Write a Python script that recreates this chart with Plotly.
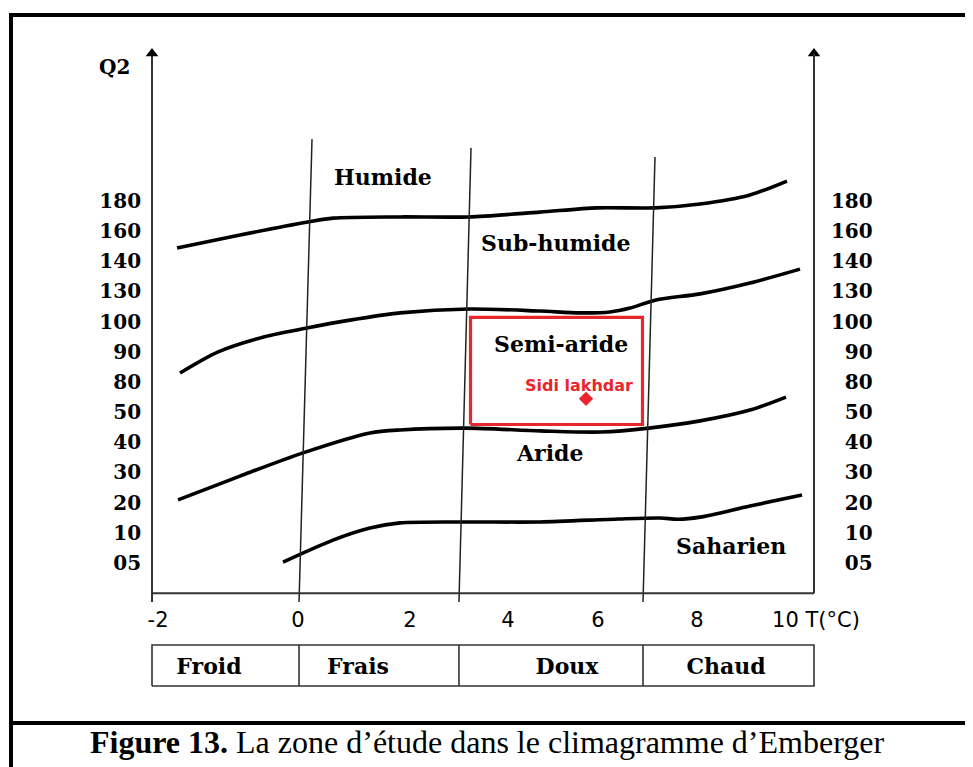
import plotly.graph_objects as go

# ---------------- data (schematic units) ----------------
# Q2 scale: tick labels on evenly spaced levels of the climagram
Q2_LABELS = ["05", "10", "20", "30", "40", "50", "80", "90", "100", "130", "140", "160", "180"]
Q2_LEVELS = [0, 1, 2, 3, 4, 5, 6, 7, 8, 9, 10, 11, 12]

# temperature axis (m, °C): label positions along the diagram (0 = left axis, 100 = right axis)
T_LABELS = ["-2", "0", "2", "4", "6", "8", "10 T(°C)"]
T_POS = [0.91, 22.05, 38.97, 53.78, 67.37, 82.33, 100.3]

# bioclimatic boundaries (x = diagram position, y = Q2 level)
HUM_X = [3.78, 13.29, 23.56, 27.34, 37.46, 47.89, 58.61, 67.22, 75.98, 82.78, 90.33, 95.92]
HUM_Y = [10.44, 10.87, 11.30, 11.43, 11.47, 11.47, 11.63, 11.77, 11.77, 11.90, 12.20, 12.66]

SUBHUM_X = [4.23, 10.0, 17.0, 23.41, 29.91, 37.46, 47.89, 58.61, 64.65, 69.18, 72.21, 76.13, 82.78, 90.33, 97.89]
SUBHUM_Y = [6.30, 7.00, 7.50, 7.79, 8.05, 8.29, 8.42, 8.35, 8.29, 8.32, 8.45, 8.72, 8.92, 9.28, 9.74]

SEMIAR_X = [3.93, 13.29, 22.81, 32.93, 37.46, 47.43, 58.61, 67.82, 75.08, 82.78, 90.33, 95.77]
SEMIAR_Y = [2.09, 2.88, 3.65, 4.31, 4.41, 4.47, 4.38, 4.34, 4.47, 4.71, 5.07, 5.50]

ARIDE_X = [19.79, 27.34, 32.93, 37.46, 47.43, 58.61, 70.54, 76.74, 79.46, 82.78, 90.33, 98.19]
ARIDE_Y = [0.03, 0.76, 1.16, 1.33, 1.36, 1.36, 1.46, 1.49, 1.45, 1.52, 1.89, 2.25]

# winter variants (vertical boundaries)
VL_TOP_X = [24.17, 48.19, 75.98]
VL_TOP_Y = [14.05, 13.76, 13.46]
VL_BOT_X = [22.21, 46.37, 74.17]

# bottom table of winter variants
WINTER_CATS = ["Froid", "Frais", "Doux", "Chaud"]
CAT_EDGES = [0, 22.21, 46.37, 74.17, 100]
CAT_LABEL_X = [8.61, 31.12, 62.69, 86.71]

# zone names
ZONE_NAMES = ["Humide", "Sub-humide", "Semi-aride", "Aride", "Saharien"]
ZONE_X = [34.89, 60.88, 61.78, 60.12, 87.46]
ZONE_Y = [12.79, 10.61, 7.26, 3.65, 0.56]

# study station and study box
STATION = "Sidi lakhdar"
STATION_X = [65.56]
STATION_Y = [5.44]
BOX_X = [48.11, 74.09]
BOX_Y = [4.59, 8.14]

# ---------------- layout constants ----------------
OFF = 8                 # default page margin of the html body
W, H = 973 - OFF, 767 - OFF
X_RANGE = [-1.5, 101.5]
Y_RANGE = [-1.293, 17.335]
AXIS_Y = -1.0           # level of the temperature axis
TOP_Y = 16.89           # top of the Q2 axes (arrow)
RED = "#E8262B"
SERIF = "DejaVu Serif"


def px_x(p):
    return (p - OFF) / W


def px_y(p):
    return 1 - (p - OFF) / H


fig = go.Figure()

# boundaries
for xs, ys in [(HUM_X, HUM_Y), (SUBHUM_X, SUBHUM_Y), (SEMIAR_X, SEMIAR_Y), (ARIDE_X, ARIDE_Y)]:
    fig.add_trace(go.Scatter(x=xs, y=ys, mode="lines",
                             line=dict(color="black", width=3.6, shape="spline", smoothing=0.8),
                             hoverinfo="skip", showlegend=False))

# vertical lines
vx, vy = [], []
for xt, yt, xb in zip(VL_TOP_X, VL_TOP_Y, VL_BOT_X):
    vx += [xt, xb, None]
    vy += [yt, Y_RANGE[0], None]
fig.add_trace(go.Scatter(x=vx, y=vy, mode="lines", line=dict(color="#222", width=1.5),
                         hoverinfo="skip", showlegend=False))

# axes lines (left extends below like the others)
fig.add_trace(go.Scatter(x=[0, 0, None, 0, 100], y=[Y_RANGE[0], TOP_Y, None, AXIS_Y, AXIS_Y],
                         mode="lines", line=dict(color="#333", width=2),
                         hoverinfo="skip", showlegend=False))
fig.add_trace(go.Scatter(x=[100, 100], y=[AXIS_Y, TOP_Y], mode="lines",
                         line=dict(color="#333", width=2), yaxis="y2",
                         hoverinfo="skip", showlegend=False))
fig.add_trace(go.Scatter(x=[0, 100], y=[TOP_Y, TOP_Y], mode="markers",
                         marker=dict(symbol="triangle-up", size=11, color="black"),
                         cliponaxis=False, hoverinfo="skip", showlegend=False))

# study box
fig.add_trace(go.Scatter(x=[BOX_X[0], BOX_X[1], BOX_X[1], BOX_X[0], BOX_X[0]],
                         y=[BOX_Y[0], BOX_Y[0], BOX_Y[1], BOX_Y[1], BOX_Y[0]],
                         mode="lines", line=dict(color=RED, width=3.2),
                         hoverinfo="skip", showlegend=False))
# station
fig.add_trace(go.Scatter(x=STATION_X, y=STATION_Y, mode="markers",
                         marker=dict(symbol="diamond", size=11, color=RED),
                         hoverinfo="skip", showlegend=False))

# table
tx = [0, 100, 100, 0, 0, None]
ty = [0, 0, 1, 1, 0, None]
for e in CAT_EDGES[1:-1]:
    tx += [e, e, None]
    ty += [0, 1, None]
fig.add_trace(go.Scatter(x=tx, y=ty, mode="lines", line=dict(color="#333", width=1.6),
                         xaxis="x2", yaxis="y3", hoverinfo="skip", showlegend=False))
fig.add_trace(go.Scatter(x=CAT_LABEL_X, y=[0.43] * len(WINTER_CATS), mode="text",
                         text=WINTER_CATS,
                         textfont=dict(family=SERIF, size=22, color="black", weight="bold"),
                         xaxis="x2", yaxis="y3", hoverinfo="skip", showlegend=False))

annotations = []
for name, zx, zy in zip(ZONE_NAMES, ZONE_X, ZONE_Y):
    annotations.append(dict(x=zx, y=zy, xref="x", yref="y", text=name, showarrow=False,
                            xanchor="center", yanchor="middle",
                            font=dict(family=SERIF, size=22, color="black", weight="bold")))
annotations.append(dict(x=STATION_X[0], y=STATION_Y[0], xref="x", yref="y", text=STATION,
                        showarrow=False, xshift=-7, yshift=13, xanchor="center", yanchor="middle",
                        font=dict(family="DejaVu Sans", size=16, color=RED, weight="bold")))
annotations.append(dict(x=px_x(114), y=px_y(67), xref="paper", yref="paper", text="Q2",
                        showarrow=False, xanchor="center", yanchor="middle",
                        font=dict(family=SERIF, size=20, color="black", weight="bold")))
annotations.append(dict(x=px_x(487), y=px_y(742), xref="paper", yref="paper",
                        text="<b>Figure 13.</b> La zone d’étude dans le climagramme d’Emberger",
                        showarrow=False, xanchor="center", yanchor="middle",
                        font=dict(family="Liberation Serif", size=32, color="black")))

shapes = [
    dict(type="line", xref="paper", yref="paper", x0=px_x(9), x1=1.01, y0=px_y(15), y1=px_y(15),
         line=dict(color="black", width=4)),
    dict(type="line", xref="paper", yref="paper", x0=px_x(11), x1=px_x(11), y0=px_y(13), y1=-0.01,
         line=dict(color="black", width=4)),
    dict(type="line", xref="paper", yref="paper", x0=px_x(9), x1=1.01, y0=px_y(723), y1=px_y(723),
         line=dict(color="black", width=4)),
]

xdom = [px_x(142.07), px_x(823.93)]
ytick_font = dict(family=SERIF, size=20, color="black", weight="bold")
right_labels = ["\u2007" * (3 - len(s)) + s for s in Q2_LABELS]

fig.update_layout(
    width=W, height=H,
    margin=dict(l=0, r=0, t=0, b=0, autoexpand=False),
    paper_bgcolor="white", plot_bgcolor="white",
    showlegend=False,
    xaxis=dict(domain=xdom, range=X_RANGE, anchor="y", tickvals=T_POS, ticktext=T_LABELS,
               ticks="", showgrid=False, zeroline=False, showline=False, automargin=False,
               tickfont=dict(family="DejaVu Sans", size=21, color="black"), ticklabelstandoff=3),
    yaxis=dict(domain=[px_y(602), px_y(40)], range=Y_RANGE, anchor="x", tickvals=Q2_LEVELS,
               ticktext=Q2_LABELS, ticks="", showgrid=False, zeroline=False, showline=False,
               automargin=False, tickfont=ytick_font),
    yaxis2=dict(range=Y_RANGE, overlaying="y", side="right", anchor="x", tickvals=Q2_LEVELS,
                ticktext=right_labels, ticks="", showgrid=False, zeroline=False, showline=False,
                automargin=False, tickfont=ytick_font, ticklabelstandoff=6),
    xaxis2=dict(domain=xdom, range=X_RANGE, anchor="y3", visible=False),
    yaxis3=dict(domain=[px_y(690), px_y(641)], range=[-0.0976, 1.0976], anchor="x2", visible=False),
    annotations=annotations,
    shapes=shapes,
)

fig.write_html("out.html")
